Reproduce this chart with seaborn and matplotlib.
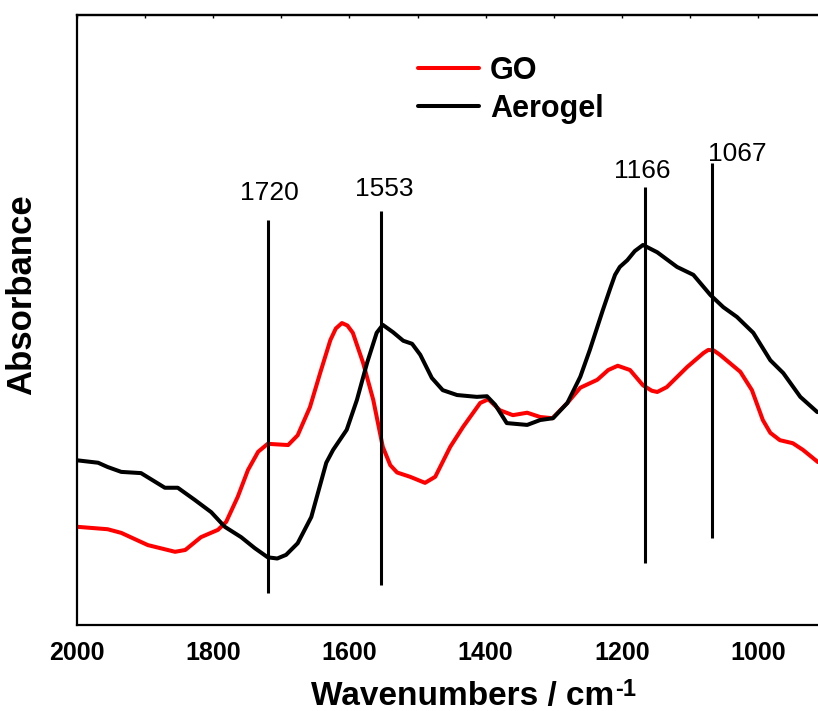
import numpy as np
import pandas as pd
import matplotlib
matplotlib.use("Agg")
import matplotlib.pyplot as plt
import seaborn as sns
from matplotlib.ticker import MultipleLocator

# ---- data (absorbance in arbitrary units) ----
go_wn = [2000, 1955, 1935, 1896, 1856, 1841, 1818, 1793, 1781, 1764, 1749, 1734,
         1720, 1690, 1676, 1658, 1643, 1628, 1620, 1611, 1603, 1595, 1580, 1565, 1551, 1540, 1530,
         1511, 1489, 1474, 1452, 1433, 1408, 1396, 1379, 1360, 1339, 1320, 1302,
         1280, 1261, 1236, 1220, 1206, 1188, 1169, 1156, 1148, 1134, 1104, 1080, 1073, 1065, 1056, 1026,
         1009, 993, 982, 968, 949, 934, 912]
go_abs = [0.161, 0.157, 0.151, 0.131, 0.120, 0.123, 0.144, 0.156, 0.169, 0.210, 0.254, 0.284,
          0.297, 0.295, 0.311, 0.357, 0.413, 0.467, 0.486, 0.495, 0.491, 0.479, 0.430, 0.369, 0.292, 0.262, 0.250,
          0.243, 0.233, 0.243, 0.292, 0.325, 0.364, 0.370, 0.352, 0.344, 0.348, 0.341, 0.339,
          0.364, 0.389, 0.402, 0.418, 0.425, 0.418, 0.393, 0.384, 0.382, 0.390, 0.423, 0.446, 0.451, 0.450, 0.443, 0.415,
          0.385, 0.336, 0.315, 0.303, 0.298, 0.287, 0.267]

aero_wn = [2000, 1969, 1955, 1935, 1906, 1871, 1852, 1827, 1803, 1783, 1759, 1739,
           1720, 1706, 1693, 1676, 1656, 1634, 1624, 1604, 1589, 1574, 1560, 1551, 1536,
           1521, 1508, 1496, 1479, 1463, 1442, 1413, 1398, 1386, 1369, 1339, 1320,
           1301, 1280, 1261, 1247, 1228, 1217, 1210, 1203, 1192, 1181, 1169, 1148, 1119, 1095, 1070,
           1051, 1031, 1007, 982, 963, 938, 913]
aero_abs = [0.270, 0.266, 0.259, 0.251, 0.249, 0.225, 0.225, 0.205, 0.185, 0.161, 0.144, 0.126,
            0.111, 0.109, 0.115, 0.134, 0.177, 0.266, 0.287, 0.320, 0.369, 0.430, 0.479, 0.492, 0.480,
            0.466, 0.461, 0.443, 0.405, 0.385, 0.377, 0.374, 0.375, 0.361, 0.331, 0.328, 0.336,
            0.339, 0.364, 0.407, 0.451, 0.516, 0.552, 0.574, 0.587, 0.598, 0.613, 0.623, 0.611, 0.587, 0.574, 0.541,
            0.521, 0.505, 0.479, 0.434, 0.413, 0.374, 0.349]

peak_wn = [1720, 1553, 1166, 1067]
peak_labels = ["1720", "1553", "1166", "1067"]
peak_ymin = [0.052, 0.066, 0.102, 0.143]
peak_ymax = [0.664, 0.679, 0.718, 0.757]
peak_label_x = [1717, 1549, 1170, 1031]
peak_label_y = [0.697, 0.703, 0.733, 0.761]

x_ticks = [2000, 1800, 1600, 1400, 1200, 1000]

# ---- plotting ----
sns.set_style("white")
plt.rcParams['font.family'] = ['Liberation Sans', 'DejaVu Sans']
plt.rcParams['axes.unicode_minus'] = False
plt.rcParams['text.color'] = 'black'
plt.rcParams['axes.labelcolor'] = 'black'
plt.rcParams['xtick.color'] = 'black'
plt.rcParams['ytick.color'] = 'black'

fig = plt.figure(figsize=(8.18, 7.11), dpi=100)
ax = fig.add_axes([77/818, 86/711, 1 - 77/818, 610/711])

df_go = pd.DataFrame({"wn": go_wn, "a": go_abs})
df_ae = pd.DataFrame({"wn": aero_wn, "a": aero_abs})
sns.lineplot(data=df_go, x="wn", y="a", sort=False, color="#ff0000", lw=2.9,
             label="GO", ax=ax, solid_joinstyle="round", solid_capstyle="round")
sns.lineplot(data=df_ae, x="wn", y="a", sort=False, color="black", lw=2.9,
             label="Aerogel", ax=ax, solid_joinstyle="round", solid_capstyle="round")

ax.vlines(peak_wn, peak_ymin, peak_ymax, colors="black", lw=2.2)
for x, y, t in zip(peak_label_x, peak_label_y, peak_labels):
    ax.text(x, y, t, ha="center", va="baseline", fontsize=19, color="black")

ax.set_xlim(2000, 912)
ax.set_ylim(0, 1.0)
ax.set_xticks(x_ticks)
ax.xaxis.set_minor_locator(MultipleLocator(100))
ax.set_yticks([])
ax.tick_params(axis="x", which="major", direction="out", length=8, width=1.5,
               labelsize=18, pad=3.5, top=False, colors="black")
ax.tick_params(axis="x", which="minor", direction="out", length=4, width=1.5, top=False)
for lab in ax.get_xticklabels():
    lab.set_fontweight("bold")
    lab.set_color("black")

sec = ax.secondary_xaxis("top")
sec.xaxis.set_major_locator(MultipleLocator(100))
sec.tick_params(direction="in", length=2.5, width=1.0, labeltop=False)

for s in ["left", "bottom", "top"]:
    ax.spines[s].set_linewidth(1.6)
    ax.spines[s].set_color("black")
sec.spines["top"].set_linewidth(1.6)
ax.spines["right"].set_visible(False)

ax.set_xlabel("Wavenumbers / cm", fontsize=24, fontweight="bold", color="black")
ax.set_ylabel("Absorbance", fontsize=25, fontweight="bold", color="black")
ax.xaxis.set_label_coords(0.52, -0.0925)
ax.yaxis.set_label_coords(-0.053, 0.541)

leg = ax.legend(loc="upper left", bbox_to_anchor=(418/818, 1 - 56/711),
                bbox_transform=fig.transFigure, frameon=False, fontsize=22,
                handlelength=2.0, handletextpad=0.35, labelspacing=0.25,
                borderpad=0, borderaxespad=0)
for t in leg.get_texts():
    t.set_fontweight("bold")
    t.set_color("black")
for l in leg.get_lines():
    l.set_linewidth(2.9)

# superscript "-1" placed right after the x label
fig.canvas.draw()
bb = ax.xaxis.label.get_window_extent(renderer=fig.canvas.get_renderer())
W, H = fig.bbox.width, fig.bbox.height
fig.text((bb.x1 + 1) / W, (bb.y1 + 3) / H, "-1", fontsize=17, fontweight="bold",
         color="black", ha="left", va="top")

fig.savefig("out.png", dpi=100)
